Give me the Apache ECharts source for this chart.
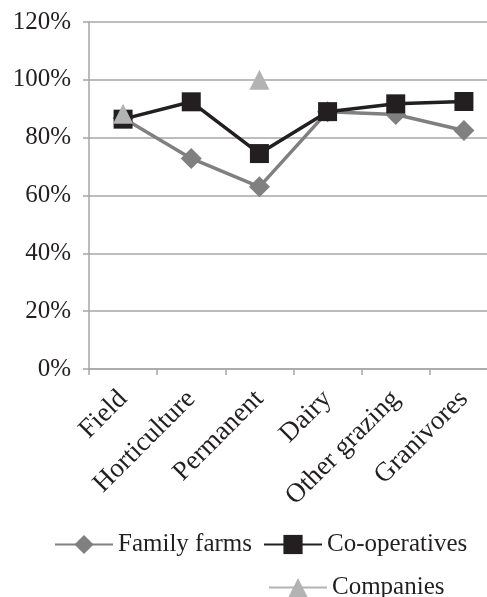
<!DOCTYPE html>
<html>
<head>
<meta charset="utf-8">
<script src="https://cdn.jsdelivr.net/npm/echarts@6/dist/echarts.min.js"></script>
<style>
  html, body { margin: 0; padding: 0; background: #fff; overflow: hidden; }
  /* the plot runs slightly past the right edge of the window */
  #chart { width: 498px; height: 597px; }
</style>
</head>
<body>
<div id="chart"></div>
<script>
// Farm types along the category axis
const categories = ['Field', 'Horticulture', 'Permanent', 'Dairy', 'Other grazing', 'Granivores'];

// Share per ownership form, in percent
const familyFarms = [86.8, 72.8, 63.0, 89.0, 88.0, 82.5];
const cooperatives = [86.4, 92.4, 74.5, 89.0, 91.7, 92.5];
const companies = [88.3, null, 100.0, null, null, null];

const yTicks = [0, 20, 40, 60, 80, 100, 120];

const serif = '"Liberation Serif", "DejaVu Serif", serif';
const gridGray = '#a6a6a6';
const ink = '#231f20';

const chart = echarts.init(document.getElementById('chart'), null, { renderer: 'canvas' });

chart.setOption({
  animation: false,
  backgroundColor: '#ffffff',
  grid: { left: 89, right: 0, top: 22, bottom: 228, containLabel: false },
  xAxis: {
    type: 'category',
    data: categories,
    boundaryGap: true,
    axisLine: { lineStyle: { color: gridGray, width: 1.5 } },
    axisTick: { show: true, length: 6, lineStyle: { color: gridGray, width: 1.5 } },
    axisLabel: {
      rotate: 45,
      margin: 26,
      fontFamily: serif,
      fontSize: 27,
      color: ink,
      interval: 0
    }
  },
  yAxis: {
    type: 'value',
    min: yTicks[0],
    max: yTicks[yTicks.length - 1],
    interval: 20,
    axisLine: { show: true, lineStyle: { color: gridGray, width: 1.5 } },
    axisTick: { show: true, length: 6, lineStyle: { color: gridGray, width: 1.5 } },
    splitLine: { lineStyle: { color: gridGray, width: 1.5 } },
    axisLabel: {
      margin: 18,
      fontFamily: serif,
      fontSize: 25,
      color: ink,
      formatter: v => v + '%'
    }
  },
  legend: [
    {
      data: ['Family farms', 'Co-operatives'],
      left: 49,
      top: 527,
      itemWidth: 58,
      itemHeight: 24,
      itemGap: 11,
      textStyle: { fontFamily: serif, fontSize: 25, color: ink }
    },
    {
      data: ['Companies'],
      left: 263,
      top: 570,
      itemWidth: 58,
      itemHeight: 24,
      textStyle: { fontFamily: serif, fontSize: 25, color: ink }
    }
  ],
  series: [
    {
      name: 'Family farms',
      type: 'line',
      data: familyFarms,
      symbol: 'diamond',
      symbolSize: 21,
      itemStyle: { color: '#808080' },
      lineStyle: { color: '#808080', width: 3.5 },
      z: 2
    },
    {
      name: 'Co-operatives',
      type: 'line',
      data: cooperatives,
      symbol: 'rect',
      symbolSize: 19,
      itemStyle: { color: ink },
      lineStyle: { color: ink, width: 3.5 },
      z: 3
    },
    {
      name: 'Companies',
      type: 'line',
      data: companies,
      connectNulls: false,
      symbol: 'triangle',
      symbolSize: 20,
      itemStyle: { color: '#b3b3b3' },
      lineStyle: { color: '#b3b3b3', width: 3.5 },
      z: 4
    }
  ]
});
</script>
</body>
</html>
